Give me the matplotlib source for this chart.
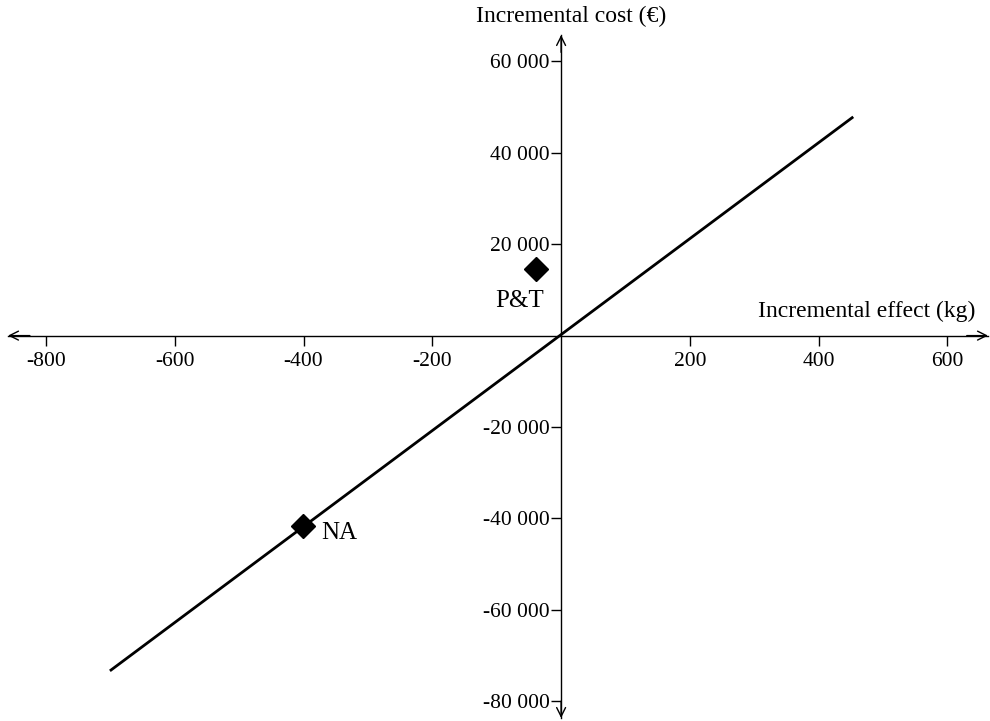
import matplotlib.pyplot as plt

plt.rcParams["font.family"] = ["Liberation Serif", "DejaVu Serif"]

# threshold line end points (effect in kg, cost in euro)
line_x = [-699, 452]
line_y = [-73200, 47700]

# strategies
labels = ["P&T", "NA"]
effect = [-39, -401]
cost = [14600, -41600]

xticks = [-800, -600, -400, -200, 200, 400, 600]
yticks = [-80000, -60000, -40000, -20000, 20000, 40000, 60000]

fig = plt.figure(figsize=(9.9, 7.21), dpi=100)
ax = fig.add_axes([8 / 990, 3 / 721, 980 / 990, 683 / 721])
ax.set_xlim(-859, 663)
ax.set_ylim(-83700, 65800)

for s in ["top", "right"]:
    ax.spines[s].set_visible(False)
ax.spines["left"].set_position(("data", 0))
ax.spines["bottom"].set_position(("data", 0))
for s in ["left", "bottom"]:
    ax.spines[s].set_linewidth(1.0)

ax.set_xticks(xticks)
ax.set_xticklabels([str(v) for v in xticks])
ax.set_yticks(yticks)
ax.set_yticklabels([f"{v:,}".replace(",", " ") for v in yticks])
ax.tick_params(axis="both", direction="out", length=7, width=1.0,
               labelsize=15.5)
ax.tick_params(axis="x", pad=5)
ax.tick_params(axis="y", pad=1)

# arrow heads on the axes ends
arrow = dict(arrowstyle="->", lw=1.0, color="black", mutation_scale=16,
             shrinkA=0, shrinkB=0)
ax.annotate("", xy=(663, 0), xytext=(630, 0), arrowprops=arrow)
ax.annotate("", xy=(-859, 0), xytext=(-825, 0), arrowprops=arrow)
ax.annotate("", xy=(0, 65800), xytext=(0, 62000), arrowprops=arrow)
ax.annotate("", xy=(0, -83700), xytext=(0, -80000), arrowprops=arrow)

ax.plot(line_x, line_y, color="black", lw=2)
ax.plot(effect, cost, "D", color="black", ms=12, clip_on=False)

ax.text(-65, 7500, labels[0], fontsize=18, ha="center", va="center")
ax.text(-372, -43200, labels[1], fontsize=18, ha="left", va="center")

fig.text(571 / 990, 1 - 16 / 721, "Incremental cost (€)", fontsize=17,
         ha="center", va="center")
fig.text(975 / 990, 1 - 311 / 721, "Incremental effect (kg)", fontsize=17,
         ha="right", va="center")

fig.savefig("out.png", dpi=100)
